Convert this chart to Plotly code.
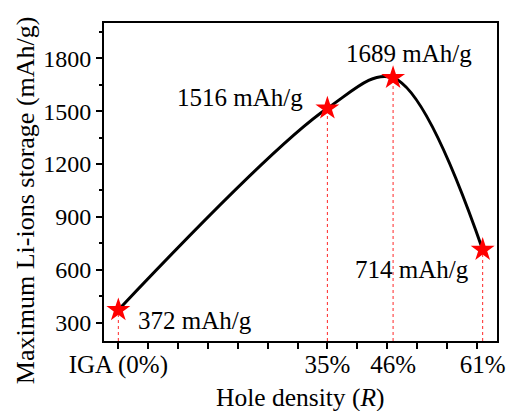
import plotly.graph_objects as go

# Hole density (%) and the maximum Li-ion storage capacity at each density
hole_density = [0, 35, 46, 61]
capacity = [372, 1516, 1689, 714]
x_tick_labels = ["IGA (0%)", "35%", "46%", "61%"]
y_ticks = [300, 600, 900, 1200, 1500, 1800]

X_RANGE = [-2.4, 63.4]
Y_RANGE = [196, 2000]
FONT = "Liberation Serif"

# label offsets (pixels) relative to each star
label_pos = [
    dict(xanchor="left", xshift=18, yshift=-11),
    dict(xanchor="right", xshift=-22, yshift=11),
    dict(xanchor="center", xshift=16, yshift=24),
    dict(xanchor="right", xshift=-12, yshift=-20),
]

fig = go.Figure()

# smooth trend curve
fig.add_trace(go.Scatter(
    x=hole_density, y=capacity, mode="lines",
    line=dict(color="black", width=3, shape="spline", smoothing=1.0),
    hoverinfo="skip", showlegend=False,
))

# red star markers
fig.add_trace(go.Scatter(
    x=hole_density, y=capacity, mode="markers",
    marker=dict(symbol="star", size=18, color="red", line=dict(width=0)),
    showlegend=False,
))

# dotted drop lines from each star to the x axis
for xv, yv in zip(hole_density, capacity):
    fig.add_shape(type="line", xref="x", yref="y",
                  x0=xv, x1=xv, y0=Y_RANGE[0], y1=yv,
                  line=dict(color="rgba(255,0,0,0.85)", width=1, dash="dot"),
                  layer="below")

# value labels
for xv, yv, pos in zip(hole_density, capacity, label_pos):
    fig.add_annotation(x=xv, y=yv, xref="x", yref="y",
                       text=f"{yv} mAh/g", showarrow=False,
                       font=dict(family=FONT, size=25, color="black"),
                       yanchor="middle", **pos)

# axis titles
fig.add_annotation(text="Hole density (<i>R</i>)", xref="paper", yref="paper",
                   x=0.5, y=-0.178, xanchor="center", yanchor="middle",
                   showarrow=False, font=dict(family=FONT, size=25.5, color="black"))
fig.add_annotation(text="Maximum Li-ions storage (mAh/g)", xref="paper", yref="paper",
                   x=-0.201, y=0.443, xanchor="center", yanchor="middle",
                   textangle=-90, showarrow=False,
                   font=dict(family=FONT, size=26, color="black"))

fig.update_xaxes(
    range=X_RANGE, tickvals=hole_density, ticktext=x_tick_labels,
    ticks="", showgrid=False, zeroline=False, automargin=False,
    showline=True, linecolor="black", linewidth=2, mirror=True,
    tickfont=dict(family=FONT, size=25, color="black"),
    minor=dict(tick0=0, dtick=5, ticks="outside", ticklen=6, tickwidth=1.5,
               tickcolor="black", showgrid=False),
)
fig.update_yaxes(
    range=Y_RANGE, tickvals=y_ticks,
    ticks="outside", ticklen=6, tickwidth=1.5, tickcolor="black",
    showgrid=False, zeroline=False, automargin=False,
    showline=True, linecolor="black", linewidth=2, mirror=True,
    tickfont=dict(family=FONT, size=24, color="black"),
    minor=dict(tick0=150, dtick=300, ticks="outside", ticklen=3, tickwidth=1.5,
               tickcolor="black", showgrid=False),
)

fig.update_layout(
    width=509, height=411,
    margin=dict(l=104, r=12, t=23, b=70),
    paper_bgcolor="white", plot_bgcolor="white",
    showlegend=False,
)

fig.write_html("out.html")
